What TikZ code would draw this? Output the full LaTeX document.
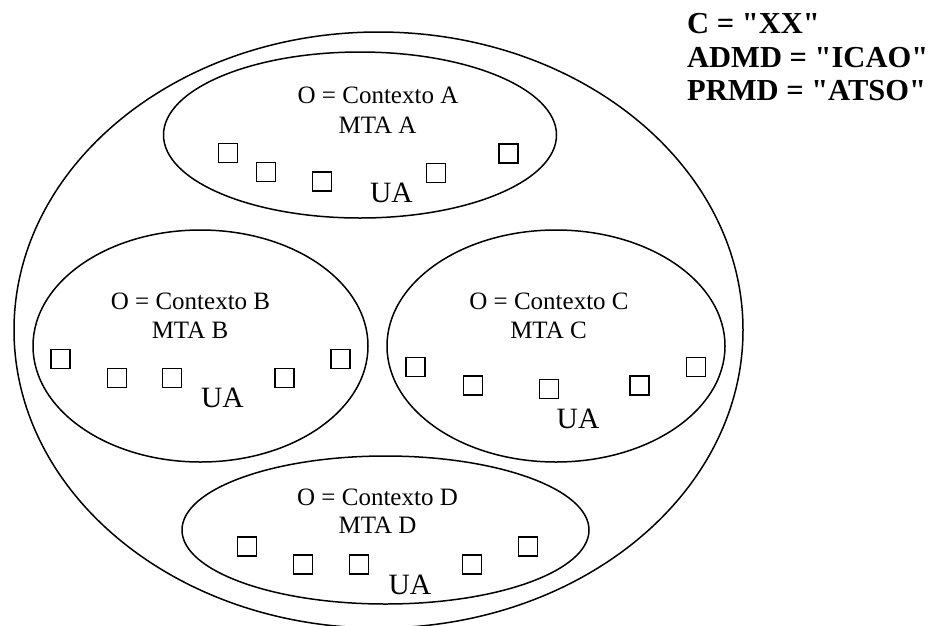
\documentclass[tikz,border=0pt]{standalone}
\usepackage{fontspec}
\setmainfont{Liberation Serif}
\newfontfamily\attrfont{Liberation Serif}[Ligatures=TeXOff]
\usetikzlibrary{shapes.geometric}

\tikzset{
  domainshape/.style={draw, ellipse, line width=1.5pt, inner sep=0pt},
  uabox/.style={draw, line width=1.3pt, minimum size=19pt, inner sep=0pt},
  lbltext/.style={anchor=base, inner sep=0pt, font=\fontsize{25}{30}\selectfont},
  uatext/.style={anchor=base, inner sep=0pt, font=\fontsize{29.5}{34}\selectfont},
  attrtext/.style={anchor=base west, inner sep=0pt, font=\attrfont\fontsize{30.5}{34}\selectfont\bfseries}
}

\begin{document}
\begin{tikzpicture}[x=1pt, y=-1pt]
  \useasboundingbox (0,0) rectangle (932,625);
  \clip (0,0) rectangle (932,625);

  % administration domain and its private domains
  \node[domainshape, minimum width=729pt, minimum height=596pt] (outer) at (378.5,330) {};
  \node[domainshape, minimum width=393pt, minimum height=166pt] (ea) at (360,135) {};
  \node[domainshape, minimum width=335pt, minimum height=232pt] (eb) at (200.5,346) {};
  \node[domainshape, minimum width=338pt, minimum height=232pt] (ec) at (556,346) {};
  \node[domainshape, minimum width=407pt, minimum height=148pt] (ed) at (385.5,530) {};

  % domain attributes
  \node[attrtext] (c)    at (687,33) {C = "XX"};
  \node[attrtext] (admd) at (687,67) {ADMD = "ICAO"};
  \node[attrtext] (prmd) at (687,100) {PRMD = "ATSO"};

  % private domain A
  \node[lbltext] (oa) at (378,103) {O = Contexto A};
  \node[lbltext] (ma) at (377.5,133) {MTA A};
  \node[uabox] (a1) at (228,153) {};
  \node[uabox] (a2) at (266,172) {};
  \node[uabox] (a3) at (322,181.5) {};
  \node[uabox] (a4) at (436,173) {};
  \node[uabox] (a5) at (508.5,153.5) {};
  \node[uatext] (uaa) at (391.5,202) {UA};

  % private domain B
  \node[lbltext] (ob) at (190.5,309) {O = Contexto B};
  \node[lbltext] (mb) at (190,338) {MTA B};
  \node[uabox] (b1) at (60.5,359) {};
  \node[uabox] (b2) at (117,378) {};
  \node[uabox] (b3) at (172,378) {};
  \node[uabox] (b4) at (284.5,378) {};
  \node[uabox] (b5) at (340.5,359) {};
  \node[uatext] (uab) at (222.5,407) {UA};

  % private domain C
  \node[lbltext] (oc) at (549,309) {O = Contexto C};
  \node[lbltext] (mc) at (548.5,338) {MTA C};
  \node[uabox] (c1) at (415.5,367) {};
  \node[uabox] (c2) at (473,385.5) {};
  \node[uabox] (c3) at (549,389) {};
  \node[uabox] (c4) at (639.5,385.5) {};
  \node[uabox] (c5) at (696,367) {};
  \node[uatext] (uac) at (578,428) {UA};

  % private domain D
  \node[lbltext] (od) at (377.5,505) {O = Contexto D};
  \node[lbltext] (md) at (377.5,533) {MTA D};
  \node[uabox] (d1) at (247,546.5) {};
  \node[uabox] (d2) at (303,564.5) {};
  \node[uabox] (d3) at (359,564.5) {};
  \node[uabox] (d4) at (472,564.5) {};
  \node[uabox] (d5) at (528,546.5) {};
  \node[uatext] (uad) at (410,594) {UA};
\end{tikzpicture}
\end{document}
